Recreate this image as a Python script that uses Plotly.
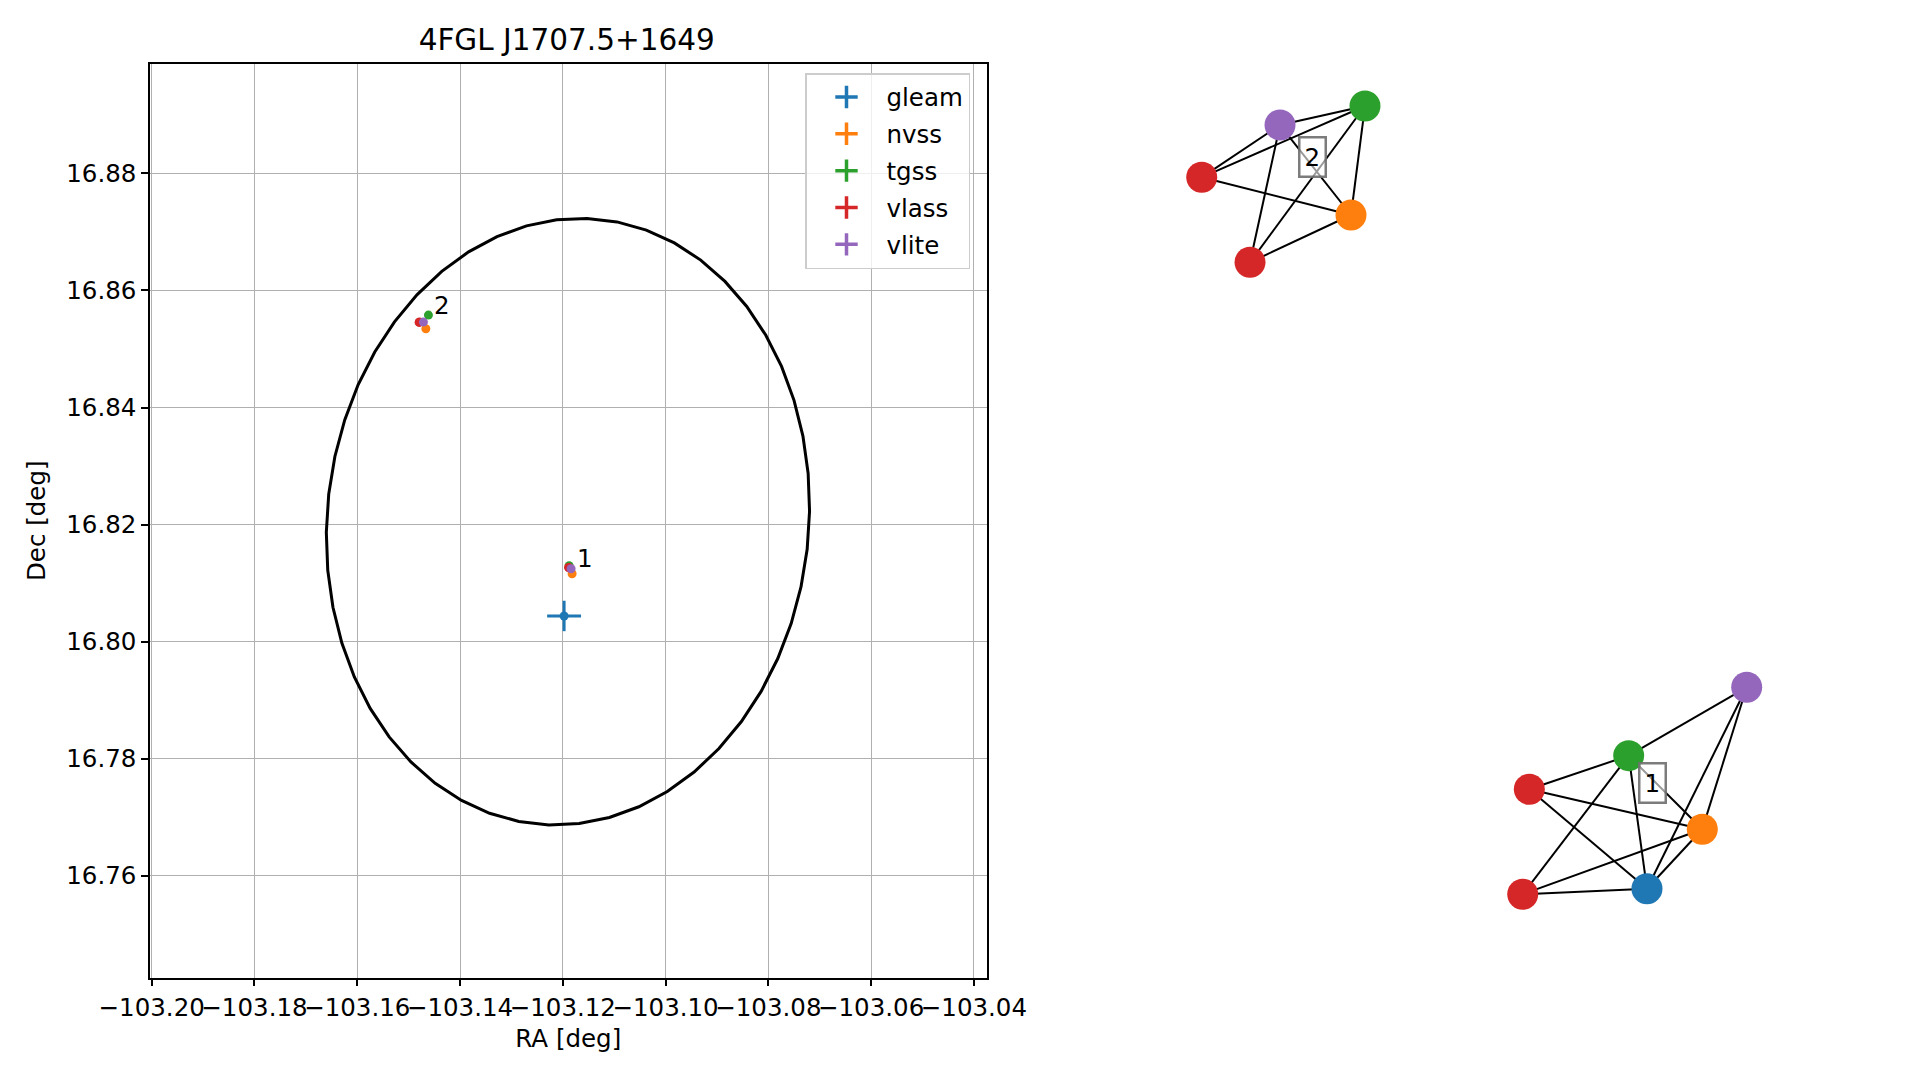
import numpy as np
import plotly.graph_objects as go

# ---------------- data ----------------
catalogs = ["gleam", "nvss", "tgss", "vlass", "vlite"]
colors = ["#1f77b4", "#ff7f0e", "#2ca02c", "#d62728", "#9467bd"]

gleam_ra = [-103.11975]
gleam_dec = [16.8044]
gleam_ra_err = [0.0033]
gleam_dec_err = [0.0026]

nvss_ra = [-103.11819, -103.14665]
nvss_dec = [16.81161, 16.85346]
nvss_ra_err = [0.0002, 0.0002]
nvss_dec_err = [0.0002, 0.0002]

tgss_ra = [-103.11877, -103.14615]
tgss_dec = [16.81298, 16.85578]
tgss_ra_err = [0.0003, 0.0003]
tgss_dec_err = [0.0003, 0.0003]

vlass_ra = [-103.11887, -103.11880, -103.14796, -103.14790]
vlass_dec = [16.81269, 16.81262, 16.85454, 16.85460]
vlass_ra_err = [0.00005, 0.00005, 0.00005, 0.00005]
vlass_dec_err = [0.00005, 0.00005, 0.00005, 0.00005]

vlite_ra = [-103.11839, -103.14712]
vlite_dec = [16.81247, 16.85459]
vlite_ra_err = [0.0002, 0.0002]
vlite_dec_err = [0.0002, 0.0002]

group_labels = ["1", "2"]
group_label_ra = [-103.11566, -103.14349]
group_label_dec = [16.81422, 16.85744]

# 4FGL 95% error ellipse
ell_center_ra = -103.1190
ell_center_dec = 16.8205
ell_semi_ra = 0.0467
ell_semi_dec = 0.0521
ell_angle_deg = 13.8
ell_npts = 50

x_ticks = [-103.20, -103.18, -103.16, -103.14, -103.12, -103.10, -103.08, -103.06, -103.04]
x_ticklabels = ["−103.20", "−103.18", "−103.16", "−103.14", "−103.12", "−103.10", "−103.08", "−103.06", "−103.04"]
y_ticks = [16.76, 16.78, 16.80, 16.82, 16.84, 16.86, 16.88]
y_ticklabels = ["16.76", "16.78", "16.80", "16.82", "16.84", "16.86", "16.88"]

# association graph layouts (node catalog, x, y) in layout units
g2_nodes = ["vlite", "tgss", "vlass", "nvss", "vlass"]
g2_x = [0.1667, 0.3083, 0.0362, 0.2850, 0.1167]
g2_y = [0.9578, 0.9807, 0.8948, 0.8494, 0.7924]
g2_edges = [(0, 1), (0, 2), (0, 3), (0, 4), (1, 2), (1, 3), (1, 4), (2, 3), (4, 3)]
g2_label_xy = (0.2212, 0.9189)

g1_nodes = ["vlite", "tgss", "vlass", "nvss", "vlass", "gleam"]
g1_x = [0.9445, 0.7478, 0.5822, 0.8705, 0.5712, 0.7783]
g1_y = [0.2804, 0.1980, 0.1575, 0.1093, 0.0310, 0.0377]
g1_edges = [(0, 1), (0, 5), (0, 3), (1, 2), (1, 4), (1, 5), (1, 3),
            (2, 3), (2, 5), (4, 3), (4, 5), (3, 5)]
g1_label_xy = (0.7878, 0.1647)

# ---------------- figure ----------------
W, H = 1919, 1080
FONT = "DejaVu Sans"
FS = 24.5
color_of = dict(zip(catalogs, colors))

fig = go.Figure()

# ellipse
t = np.linspace(0, 2 * np.pi, ell_npts + 1)
phi = np.deg2rad(ell_angle_deg)
ex = ell_center_ra + ell_semi_ra * np.cos(t) * np.cos(phi) + ell_semi_dec * np.sin(t) * np.sin(phi)
ey = ell_center_dec - ell_semi_ra * np.cos(t) * np.sin(phi) + ell_semi_dec * np.sin(t) * np.cos(phi)
fig.add_trace(go.Scatter(x=ex, y=ey, mode="lines", line=dict(color="black", width=3),
                         showlegend=False, hoverinfo="skip", xaxis="x", yaxis="y"))

series = [
    ("gleam", gleam_ra, gleam_dec, gleam_ra_err, gleam_dec_err),
    ("nvss", nvss_ra, nvss_dec, nvss_ra_err, nvss_dec_err),
    ("tgss", tgss_ra, tgss_dec, tgss_ra_err, tgss_dec_err),
    ("vlass", vlass_ra, vlass_dec, vlass_ra_err, vlass_dec_err),
    ("vlite", vlite_ra, vlite_dec, vlite_ra_err, vlite_dec_err),
]
for name, ra, dec, rae, dece in series:
    c = color_of[name]
    fig.add_trace(go.Scatter(
        x=ra, y=dec, mode="markers", name=name, showlegend=False,
        marker=dict(color=c, size=9, line=dict(width=0)),
        error_x=dict(type="data", array=rae, color=c, thickness=3, width=0),
        error_y=dict(type="data", array=dece, color=c, thickness=3, width=0),
        xaxis="x", yaxis="y"))
    # legend entry (errorbar style cross)
    fig.add_trace(go.Scatter(
        x=[None], y=[None], mode="markers", name=name, showlegend=True,
        legendgroup=name,
        marker=dict(symbol="cross-thin", size=16, color=c, line=dict(color=c, width=3.5)),
        xaxis="x", yaxis="y"))

annotations = []
for lab, lx, ly in zip(group_labels, group_label_ra, group_label_dec):
    annotations.append(dict(x=lx, y=ly, xref="x", yref="y", text=lab, showarrow=False,
                            font=dict(family=FONT, size=FS, color="black")))

# graphs
def add_graph(nodes, gx, gy, edges, label, lxy):
    ex_, ey_ = [], []
    for a, b in edges:
        ex_ += [gx[a], gx[b], None]
        ey_ += [gy[a], gy[b], None]
    fig.add_trace(go.Scatter(x=ex_, y=ey_, mode="lines", line=dict(color="black", width=2),
                             showlegend=False, hoverinfo="skip", xaxis="x2", yaxis="y2"))
    fig.add_trace(go.Scatter(x=gx, y=gy, mode="markers",
                             marker=dict(size=31, color=[color_of[n] for n in nodes], line=dict(width=0)),
                             showlegend=False, text=nodes, hoverinfo="text", xaxis="x2", yaxis="y2"))
    annotations.append(dict(x=lxy[0], y=lxy[1], xref="x2", yref="y2", text=label, showarrow=False,
                            font=dict(family=FONT, size=FS, color="black"),
                            bgcolor="rgba(255,255,255,0.6)", bordercolor="rgba(110,110,110,0.9)",
                            borderwidth=2.5, borderpad=4))

add_graph(g2_nodes, g2_x, g2_y, g2_edges, "2", g2_label_xy)
add_graph(g1_nodes, g1_x, g1_y, g1_edges, "1", g1_label_xy)

axis_common = dict(showline=True, linecolor="black", linewidth=1.5, mirror=True,
                   ticks="outside", ticklen=7, tickwidth=1.5, tickcolor="black",
                   showgrid=True, gridcolor="#b0b0b0", gridwidth=1.2, zeroline=False,
                   automargin=False,
                   tickfont=dict(family=FONT, size=FS, color="black"))

fig.update_layout(
    width=W, height=H,
    margin=dict(l=0, r=0, t=0, b=0, pad=0),
    paper_bgcolor="white", plot_bgcolor="white",
    font=dict(family=FONT, size=FS, color="black"),
    title=dict(text="4FGL J1707.5+1649", x=566.7 / W, xanchor="center",
               y=1 - 40 / H, yanchor="middle", automargin=False,
               font=dict(family=FONT, size=29.5, color="black")),
    xaxis=dict(domain=[150 / W, 986.5 / W], range=[-103.20033, -103.03755],
               tickvals=x_ticks, ticktext=x_ticklabels, tickangle=0,
               title=dict(text="RA [deg]", standoff=9, font=dict(family=FONT, size=FS)),
               anchor="y", **axis_common),
    yaxis=dict(domain=[1 - 977.5 / H, 1 - 64 / H], range=[16.74265, 16.89867],
               tickvals=y_ticks, ticktext=y_ticklabels,
               title=dict(text="Dec [deg]", standoff=14, font=dict(family=FONT, size=FS)),
               anchor="x", **axis_common),
    xaxis2=dict(domain=[1180 / W, 1780 / W], range=[0, 1], visible=False, anchor="y2"),
    yaxis2=dict(domain=[160 / H, 990 / H], range=[0, 1], visible=False, anchor="x2"),
    legend=dict(x=805 / W, y=1 - 73 / H, xanchor="left", yanchor="top",
                bgcolor="rgba(255,255,255,0.8)", bordercolor="#cccccc", borderwidth=1.5,
                font=dict(family=FONT, size=FS, color="black"),
                tracegroupgap=2, itemwidth=70),
    annotations=annotations,
    showlegend=True,
)

fig.write_html("out.html", config={"displayModeBar": False},
               post_script="document.body.style.margin='0';document.body.style.overflow='hidden';")
